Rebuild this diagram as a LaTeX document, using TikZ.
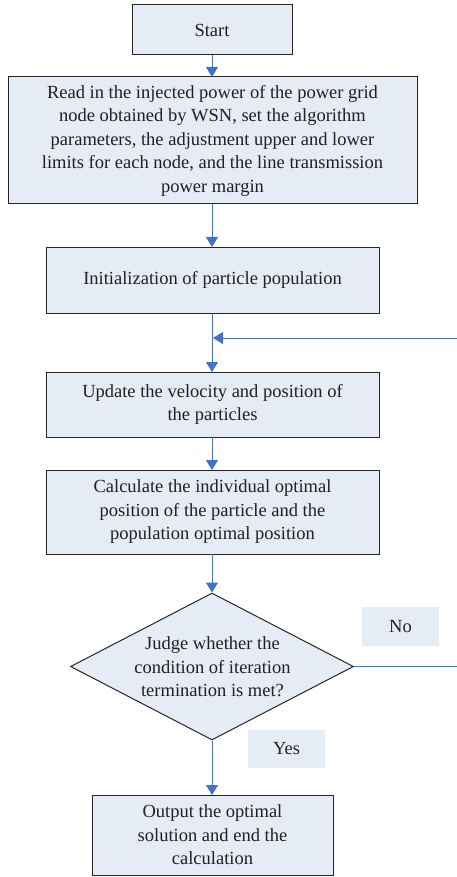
\documentclass[tikz,border=0pt]{standalone}
\usepackage{fontspec}
\setmainfont{Liberation Serif}
\usetikzlibrary{arrows.meta,shapes.geometric}
\definecolor{boxfill}{RGB}{230,236,245}
\definecolor{arrowblue}{RGB}{68,114,196}
\definecolor{txt}{RGB}{35,31,32}
\begin{document}
\begin{tikzpicture}[x=1pt,y=-1pt,
  box/.style={draw=black!85, line width=1pt, fill=boxfill, inner sep=0pt, align=center, text=txt,
    font=\fontsize{18.5}{23.5}\selectfont},
  lbl/.style={fill=boxfill, inner sep=0pt, align=center, text=txt, font=\fontsize{18.5}{23.5}\selectfont},
  flow/.style={draw=arrowblue, line width=1pt, -{Triangle[length=10pt,width=12pt]}},
  line/.style={draw=arrowblue, line width=1pt}]
\useasboundingbox (0,0) rectangle (457,877);
\node[box, minimum width=160, minimum height=50] (start) at (212,30) {Start};
\node[box, minimum width=409, minimum height=127] (read) at (212.5,140.5)
  {Read in the injected power of the power grid\\node obtained by WSN, set the algorithm\\parameters, the adjustment upper and lower\\limits for each node, and the line transmission\\power margin};
\node[box, minimum width=333, minimum height=66] (init) at (212.5,280) {Initialization of particle population};
\node[box, minimum width=333, minimum height=65] (update) at (212.5,404.5) {Update the velocity and position of\\the particles};
\node[box, minimum width=333, minimum height=84] (calc) at (212.5,512) {Calculate the individual optimal\\position of the particle and the\\population optimal position};
\node[diamond, draw=black!85, line width=1pt, fill=boxfill, inner sep=0pt, minimum width=283, minimum height=147] (judge) at (212,666.5) {};
\node[align=center, text=txt, font=\fontsize{18.5}{23.5}\selectfont] (judgetext) at (212.5,667) {Judge whether the\\condition of iteration\\termination is met?};
\node[lbl, minimum width=77, minimum height=39] (no) at (400.5,626.5) {No};
\node[lbl, minimum width=77, minimum height=38] (yes) at (286.5,749) {Yes};
\node[box, minimum width=241, minimum height=80] (output) at (212.5,835) {Output the optimal\\solution and end the\\calculation};
\coordinate (loopR) at (460,666.5);
\coordinate (loopT) at (460,338);
\coordinate (merge) at (212,338);
\draw[flow] (212,55) -- (212,77);
\draw[flow] (212,204) -- (212,247);
\draw[flow] (212,313) -- (212,372);
\draw[flow] (212,437) -- (212,470);
\draw[flow] (212,554) -- (judge.north);
\draw[flow] (judge.south) -- (212,795);
\draw[line] (judge.east) -- (loopR) -- (loopT);
\draw[flow] (loopT) -- ([xshift=1pt]merge);
\end{tikzpicture}
\end{document}
